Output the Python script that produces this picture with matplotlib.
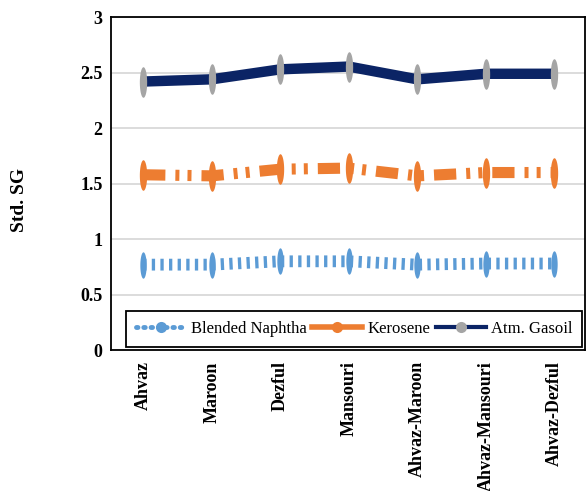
import matplotlib.pyplot as plt
import numpy as np
from matplotlib.path import Path
from matplotlib.lines import Line2D

# Dados
campos = ['Ahvaz', 'Maroon', 'Dezful', 'Mansouri',
          'Ahvaz-Maroon', 'Ahvaz-Mansouri', 'Ahvaz-Dezful']
nafta = [0.77, 0.77, 0.80, 0.80, 0.77, 0.78, 0.78]
querosene = [1.58, 1.57, 1.63, 1.64, 1.57, 1.60, 1.60]
gasoil = [2.42, 2.44, 2.53, 2.555, 2.44, 2.49, 2.49]
series = ['Blended Naphtha', 'Kerosene', 'Atm. Gasoil']

# Cores
azul = '#5b9bd5'
laranja = '#ed7d31'
marinho = '#0b2465'
cinza = '#a5a5a5'

plt.rcParams['font.family'] = ['Liberation Serif', 'DejaVu Serif']

# Marcador elíptico (alto e estreito)
t = np.linspace(0, 2*np.pi, 48)
elipse = Path(np.column_stack([0.24*np.cos(t), np.sin(t)]), closed=True)

x = np.arange(len(campos))

fig = plt.figure(figsize=(5.87, 4.91), dpi=100)
ax = fig.add_axes([0.189, 0.287, 0.808, 0.678])

ax.plot(x, nafta, color=azul, lw=8.5, linestyle=(0, (0.28, 0.45)),
        dash_capstyle='butt', marker=elipse, ms=19, mfc=azul, mec=azul,
        mew=0, zorder=3)
ax.plot(x, querosene, color=laranja, lw=8,
        linestyle=(0, (2.0, 0.9, 0.36, 0.73, 0.36, 0.9)),
        dash_capstyle='butt', marker=elipse, ms=22, mfc=laranja,
        mec=laranja, mew=0, zorder=3)
ax.plot(x, gasoil, color=marinho, lw=7.5, solid_capstyle='butt',
        marker=elipse, ms=22, mfc=cinza, mec=cinza, mew=0, zorder=3)

ax.set_ylim(0, 3)
ax.set_xlim(-0.47, 6.45)
ax.set_yticks(np.arange(0, 3.01, 0.5))
ax.set_yticklabels(['0', '0.5', '1', '1.5', '2', '2.5', '3'])
ax.set_xticks(x)
ax.set_xticklabels(campos, rotation=90, va='top')
ax.tick_params(length=0, labelsize=13, pad=8)
for lbl in ax.get_xticklabels() + ax.get_yticklabels():
    lbl.set_fontweight('bold')
ax.tick_params(axis='y', pad=6)

ax.yaxis.grid(True, color='#d9d9d9', lw=1.3)
ax.set_axisbelow(True)
for s in ax.spines.values():
    s.set_linewidth(1.3)
    s.set_color('black')

ax.set_ylabel('Std. SG', fontdict={'size': 14, 'weight': 'bold'})
ax.yaxis.set_label_coords(-0.175, 0.45)

# Legenda com marcadores redondos
handles = [
    Line2D([], [], color=azul, lw=3.5, linestyle=(0, (0.3, 1.2)),
           dash_capstyle='round', marker='o', ms=8, mfc=azul, mew=0),
    Line2D([], [], color=laranja, lw=4, marker='o', ms=8, mfc=laranja, mew=0),
    Line2D([], [], color=marinho, lw=3, marker='o', ms=8, mfc=cinza, mew=0),
]
leg = ax.legend(handles, series, loc='lower left', ncol=3, mode='expand',
                bbox_to_anchor=(0.032, 0.009, 0.962, 0.126),
                fancybox=False, framealpha=1, edgecolor='black',
                fontsize=12, handlelength=3, handletextpad=0.3,
                borderaxespad=0, borderpad=0.6)
leg.get_frame().set_linewidth(1.3)

plt.savefig('out.png', dpi=100)
